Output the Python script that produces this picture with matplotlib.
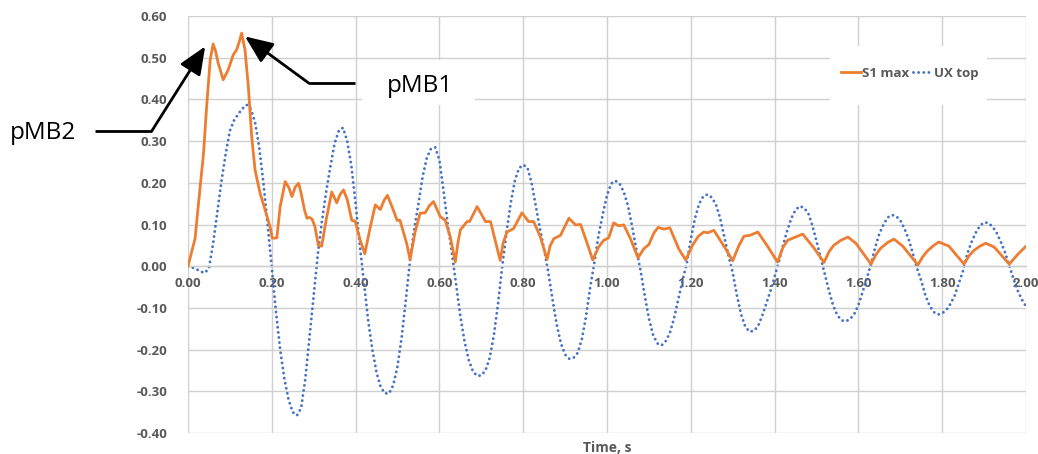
import numpy as np
import matplotlib
matplotlib.use("Agg")
import matplotlib.pyplot as plt
from matplotlib.patches import Rectangle
from matplotlib.lines import Line2D

# ---------------- data ----------------
time_ux = np.round(np.arange(0, 201) * 0.01, 2)
ux_top = [
    0.000, -0.003, -0.007, -0.013, -0.016, -0.005, 0.055, 0.130, 0.205, 0.270,
    0.325, 0.350, 0.365, 0.378, 0.387, 0.377, 0.345, 0.285, 0.200, 0.100,
    -0.005, -0.110, -0.200, -0.270, -0.320, -0.350, -0.358, -0.340, -0.270, -0.170,
    -0.070, 0.030, 0.110, 0.180, 0.240, 0.295, 0.325, 0.332, 0.300, 0.240,
    0.150, 0.050, -0.040, -0.130, -0.200, -0.255, -0.290, -0.305, -0.305, -0.285,
    -0.240, -0.170, -0.080, 0.015, 0.090, 0.150, 0.215, 0.260, 0.282, 0.285,
    0.255, 0.180, 0.100, 0.030, -0.045, -0.120, -0.180, -0.225, -0.252, -0.263,
    -0.262, -0.250, -0.220, -0.165, -0.090, 0.000, 0.080, 0.150, 0.205, 0.235,
    0.243, 0.237, 0.200, 0.145, 0.090, 0.040, -0.015, -0.080, -0.140, -0.185,
    -0.212, -0.222, -0.220, -0.208, -0.175, -0.120, -0.050, 0.010, 0.075, 0.125,
    0.170, 0.198, 0.205, 0.198, 0.178, 0.145, 0.095, 0.040, -0.010, -0.070,
    -0.125, -0.165, -0.185, -0.190, -0.180, -0.160, -0.125, -0.080, -0.035, 0.005,
    0.065, 0.115, 0.150, 0.168, 0.172, 0.165, 0.148, 0.115, 0.070, 0.025,
    -0.015, -0.070, -0.115, -0.145, -0.157, -0.155, -0.145, -0.120, -0.090, -0.060,
    -0.025, 0.010, 0.050, 0.085, 0.115, 0.135, 0.144, 0.140, 0.128, 0.098,
    0.060, 0.020, -0.020, -0.060, -0.095, -0.118, -0.130, -0.132, -0.127, -0.115,
    -0.093, -0.062, -0.030, 0.005, 0.045, 0.078, 0.100, 0.117, 0.123, 0.120,
    0.110, 0.090, 0.065, 0.030, -0.005, -0.035, -0.070, -0.095, -0.110, -0.116,
    -0.113, -0.105, -0.090, -0.070, -0.040, -0.010, 0.030, 0.058, 0.080, 0.097,
    0.105, 0.104, 0.095, 0.080, 0.058, 0.033, 0.002, -0.030, -0.058, -0.080,
    -0.096,
]

time_s1 = [
    0.000, 0.017, 0.025, 0.037, 0.045, 0.053, 0.060, 0.066, 0.072, 0.084,
    0.096, 0.108, 0.116, 0.123, 0.128, 0.136, 0.144, 0.152, 0.160, 0.172,
    0.184, 0.196, 0.201, 0.212, 0.220, 0.232, 0.241, 0.248, 0.256, 0.264,
    0.270, 0.278, 0.284, 0.290, 0.296, 0.303, 0.311, 0.319, 0.331, 0.343,
    0.355, 0.363, 0.371, 0.380, 0.391, 0.399, 0.411, 0.422, 0.435, 0.447,
    0.459, 0.468, 0.476, 0.488, 0.499, 0.506, 0.522, 0.530, 0.542, 0.554,
    0.566, 0.576, 0.586, 0.602, 0.614, 0.626, 0.638, 0.644, 0.650, 0.666,
    0.672, 0.690, 0.710, 0.722, 0.745, 0.752, 0.761, 0.777, 0.797, 0.813,
    0.825, 0.841, 0.857, 0.864, 0.873, 0.889, 0.909, 0.925, 0.937, 0.953,
    0.966, 0.980, 0.992, 1.004, 1.016, 1.027, 1.040, 1.056, 1.074, 1.088,
    1.100, 1.112, 1.122, 1.136, 1.150, 1.172, 1.188, 1.204, 1.218, 1.231,
    1.240, 1.255, 1.278, 1.300, 1.315, 1.327, 1.341, 1.360, 1.385, 1.407,
    1.420, 1.431, 1.455, 1.467, 1.493, 1.518, 1.530, 1.541, 1.558, 1.575,
    1.594, 1.612, 1.630, 1.642, 1.653, 1.670, 1.685, 1.706, 1.742, 1.753,
    1.766, 1.780, 1.792, 1.816, 1.852, 1.864, 1.876, 1.890, 1.904, 1.924,
    1.960, 1.980, 2.000,
]
s1_max = [
    0.000, 0.067, 0.150, 0.270, 0.390, 0.495, 0.533, 0.515, 0.487, 0.447,
    0.471, 0.507, 0.519, 0.540, 0.559, 0.519, 0.431, 0.311, 0.231, 0.175,
    0.135, 0.094, 0.067, 0.068, 0.143, 0.203, 0.188, 0.167, 0.190, 0.199,
    0.175, 0.135, 0.115, 0.117, 0.113, 0.095, 0.050, 0.048, 0.118, 0.178,
    0.152, 0.172, 0.183, 0.160, 0.110, 0.108, 0.062, 0.030, 0.094, 0.147,
    0.136, 0.158, 0.170, 0.140, 0.110, 0.110, 0.054, 0.016, 0.082, 0.127,
    0.128, 0.145, 0.155, 0.119, 0.110, 0.070, 0.010, 0.055, 0.087, 0.107,
    0.107, 0.143, 0.107, 0.107, 0.014, 0.055, 0.082, 0.090, 0.128, 0.107,
    0.107, 0.070, 0.016, 0.048, 0.066, 0.074, 0.115, 0.099, 0.100, 0.054,
    0.015, 0.046, 0.062, 0.068, 0.104, 0.097, 0.099, 0.066, 0.020, 0.042,
    0.052, 0.080, 0.093, 0.089, 0.092, 0.040, 0.015, 0.050, 0.072, 0.082,
    0.080, 0.086, 0.050, 0.013, 0.050, 0.072, 0.074, 0.082, 0.045, 0.010,
    0.045, 0.062, 0.072, 0.077, 0.045, 0.009, 0.035, 0.050, 0.062, 0.070,
    0.055, 0.030, 0.005, 0.028, 0.043, 0.057, 0.065, 0.048, 0.003, 0.022,
    0.038, 0.050, 0.058, 0.048, 0.005, 0.025, 0.038, 0.048, 0.055, 0.046,
    0.005, 0.028, 0.048,
]

x_ticks = [0.0, 0.2, 0.4, 0.6, 0.8, 1.0, 1.2, 1.4, 1.6, 1.8, 2.0]
y_ticks = [-0.4, -0.3, -0.2, -0.1, 0.0, 0.1, 0.2, 0.3, 0.4, 0.5, 0.6]
series_labels = ["S1 max", "UX top"]
x_title = "Time, s"

# ---------------- style ----------------
ORANGE = "#ED7D31"
BLUE = "#4472C4"
GRID = "#d0d0d0"
TXT = "#595959"
tick_font = dict(family="Open Sans", weight="bold", size=9.5)

fig = plt.figure(figsize=(10.38, 4.54), dpi=100)
ax = fig.add_axes([188 / 1038, 21 / 454, 838 / 1038, 417 / 454])
ax.set_xlim(0, 2)
ax.set_ylim(-0.4, 0.6)

for s in ["top", "right", "left"]:
    ax.spines[s].set_visible(False)
ax.spines["bottom"].set_position(("data", 0))
ax.spines["bottom"].set_color(GRID)
ax.spines["bottom"].set_linewidth(1.0)

ax.set_xticks(x_ticks)
ax.set_xticklabels([f"{v:.2f}" for v in x_ticks])
ax.set_yticks(y_ticks)
ax.set_yticklabels([f"{v:.2f}" for v in y_ticks])
ax.tick_params(axis="both", length=0, colors=TXT)
ax.tick_params(axis="y", pad=15)
ax.tick_params(axis="x", pad=8)
for lab in ax.get_xticklabels() + ax.get_yticklabels():
    lab.set_fontfamily(tick_font["family"])
    lab.set_fontweight(tick_font["weight"])
    lab.set_fontsize(tick_font["size"])

ax.grid(True, color=GRID, linewidth=1.0, zorder=0)
ax.set_axisbelow(True)

# white boxes (legend area and pMB1 label area)
ax.add_patch(Rectangle((0.416, 0.387), 0.27, 0.108, facecolor="white",
                       edgecolor="none", zorder=1))
ax.add_patch(Rectangle((0.766, 0.7875), 0.1875, 0.14, transform=ax.transAxes,
                       facecolor="white", edgecolor="none", zorder=1))

ax.plot(time_s1, s1_max, color=ORANGE, lw=2.0, zorder=3,
        solid_joinstyle="round", solid_capstyle="round")
ax.plot(time_ux, ux_top, color=BLUE, lw=2.1, zorder=2,
        linestyle=(0, (0.01, 1.75)), dash_capstyle="round")

ax.set_xlabel(x_title, fontfamily="Open Sans", fontweight="bold",
              fontsize=10, color=TXT, labelpad=4)
ax.xaxis.set_label_coords(0.5, -0.018)

handles = [Line2D([], [], color=ORANGE, lw=2.0),
           Line2D([], [], color=BLUE, lw=2.1, linestyle=(0, (0.01, 1.75)),
                  dash_capstyle="round")]
leg = ax.legend(handles, series_labels, loc="center",
                bbox_to_anchor=(0.8616, 0.862), ncol=2, frameon=False,
                handlelength=1.45, handletextpad=0.15, columnspacing=0.25,
                prop=dict(family="Open Sans", weight="bold", size=9.5))
for t in leg.get_texts():
    t.set_color(TXT)
leg.set_zorder(5)

# annotations
arrow_kw = dict(arrowstyle="-|>,head_length=0.85,head_width=0.36",
                color="black", lw=2.0, mutation_scale=20,
                shrinkA=0, shrinkB=0)
# pMB1
ax.plot([0.399, 0.287], [0.44, 0.44], color="black", lw=2.0,
        clip_on=False, zorder=6, solid_capstyle="butt")
ax.annotate("", xy=(0.136, 0.551), xytext=(0.287, 0.44),
            arrowprops=arrow_kw, annotation_clip=False, zorder=6)
ax.text(0.554, 0.433, "pMB1", fontfamily="Open Sans", fontsize=17.5,
        ha="center", va="center", color="black", zorder=6)
# pMB2
ax.plot([-0.222, -0.086], [0.325, 0.325], color="black", lw=2.0,
        clip_on=False, zorder=6, solid_capstyle="butt")
ax.annotate("", xy=(0.041, 0.527), xytext=(-0.086, 0.325),
            arrowprops=arrow_kw, annotation_clip=False, zorder=6)
ax.text(-0.345, 0.32, "pMB2", fontfamily="Open Sans", fontsize=17.5,
        ha="center", va="center", color="black", zorder=6, clip_on=False)

fig.savefig("out.png", dpi=100)
